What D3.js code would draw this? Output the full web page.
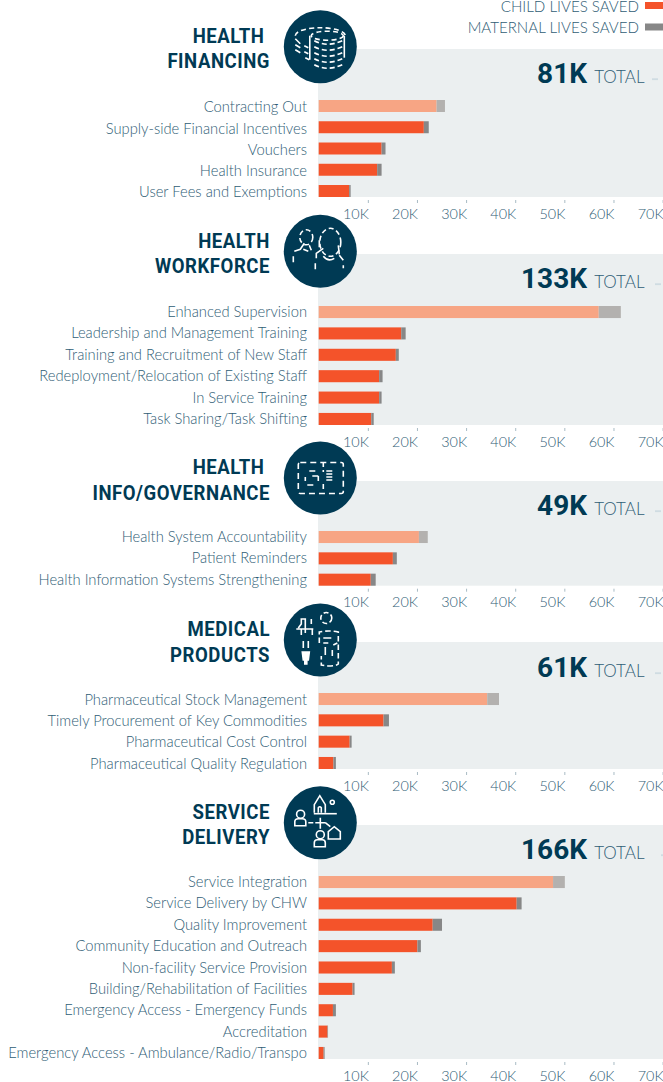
<!DOCTYPE html>
<html><head><meta charset="utf-8">
<script src="https://cdn.jsdelivr.net/npm/d3@7"></script>
<style>
html,body{margin:0;padding:0;background:#fff}
svg{display:block}
text{font-family:Lato,sans-serif}
</style></head><body><svg id="c" width="663" height="1082"></svg>
<script>
const axisTicks=[10,20,30,40,50,60,70];
const groupTitles=[["HEALTH","FINANCING"],["HEALTH","WORKFORCE"],["HEALTH","INFO/GOVERNANCE"],["MEDICAL","PRODUCTS"],["SERVICE","DELIVERY"]];
const groupTotals=["81K","133K","49K","61K","166K"];
const financingCats=["Contracting Out","Supply-side Financial Incentives","Vouchers","Health Insurance","User Fees and Exemptions"];
const financingChild=[24.0,21.4,12.8,11.9,6.2];
const financingMaternal=[1.7,1.0,0.8,0.9,0.3];
const workforceCats=["Enhanced Supervision","Leadership and Management Training","Training and Recruitment of New Staff","Redeployment/Relocation of Existing Staff","In Service Training","Task Sharing/Task Shifting"];
const workforceChild=[57.0,16.8,15.7,12.3,12.3,10.7];
const workforceMaternal=[4.5,0.9,0.6,0.7,0.5,0.5];
const governanceCats=["Health System Accountability","Patient Reminders","Health Information Systems Strengthening"];
const governanceChild=[20.4,15.1,10.6];
const governanceMaternal=[1.8,0.8,1.0];
const productsCats=["Pharmaceutical Stock Management","Timely Procurement of Key Commodities","Pharmaceutical Cost Control","Pharmaceutical Quality Regulation"];
const productsChild=[34.3,13.2,6.3,3.0];
const productsMaternal=[2.4,1.1,0.4,0.5];
const deliveryCats=["Service Integration","Service Delivery by CHW","Quality Improvement","Community Education and Outreach","Non-facility Service Provision","Building/Rehabilitation of Facilities","Emergency Access - Emergency Funds","Accreditation","Emergency Access - Ambulance/Radio/Transpo"];
const deliveryChild=[47.7,40.3,23.2,20.1,14.9,6.9,2.9,1.8,1.0];
const deliveryMaternal=[2.4,1.0,1.9,0.7,0.6,0.4,0.6,0.1,0.2];

const catLists=[financingCats,workforceCats,governanceCats,productsCats,deliveryCats];
const childLists=[financingChild,workforceChild,governanceChild,productsChild,deliveryChild];
const maternalLists=[financingMaternal,workforceMaternal,governanceMaternal,productsMaternal,deliveryMaternal];

// layout
const panelTop=[49,254,481,642,825], barTop=[100,306,531,693,876], panelBottom=[197,425,585.7,769,1059];
const circleY=[46.7,251.3,478,640,822.7], dashX=[652,655,655,655,661];
const labelNudge=[0.8,-0.5,-0.5,0,-0.5], totalOffset=[34,34,34,35,34];
const colors={child:"#f4532a",maternal:"#878787",childHi:"#f7a584",maternalHi:"#b3b1af",dark:"#003a54",text:"#2f5d75",panel:"#ebeff0",dash:"#cfdce2"};
const x=d3.scaleLinear().domain([0,70]).range([318.7,662.6]);
const svg=d3.select("#c");

const icons=[
 g=>{ // coins
  const dash="5 3.2";
  g.append("path").attr("d","M-25,-11 A25,8 0 0 1 25,-11").attr("stroke-dasharray",dash);
  g.append("path").attr("d","M-25,-8 L-20,-3 M-25,-2 L-20,1 M-25,3 L-20,6").attr("stroke-dasharray","none");
  g.append("path").attr("d","M-16,-1 L-12,1 M-16,5 L-12,7 M-15,11 L-11,13").attr("stroke-dasharray","none");
  g.append("path").attr("d","M24,-11 L24,11").attr("stroke-dasharray","none");
  g.append("ellipse").attr("cx",7).attr("cy",-11).attr("rx",16).attr("ry",4.5).attr("stroke-dasharray",dash);
  g.append("path").attr("d","M-10.5,-11 L-10.5,13").attr("stroke-dasharray","none");
  [-3,3,9,15,21].forEach(y=>g.append("path").attr("d",`M-6,${y-3} Q7,${y+4} 22,${y-3}`).attr("stroke-dasharray","5 3"));
 },
 g=>{ // workforce
  const dash="5 3";
  g.append("ellipse").attr("cx",-14).attr("cy",-14).attr("rx",6.5).attr("ry",7.5).attr("stroke-dasharray",dash);
  g.append("ellipse").attr("cx",10).attr("cy",-9).attr("rx",10.5).attr("ry",14).attr("stroke-dasharray",dash);
  g.append("path").attr("d","M-27,11 L-27,5 M-26,0 L-20,-2 L-16,-8 M-17,-2 L-12,0 M-11,-6 L-9,-1").attr("stroke-dasharray","none");
  g.append("path").attr("d","M-5,18 L-5,12 M-4,7 L-4,2 L3,-3 M-1,-11 L-1,-4 M19,4 L23,9 M23,14 L23,17 M3,5 Q8,11 14,7 M18,-6 L19,3").attr("stroke-dasharray","none");
 },
 g=>{ // info
  g.append("rect").attr("x",-22).attr("y",-15.5).attr("width",45).attr("height",31).attr("rx",2).attr("stroke-dasharray","6 4");
  g.append("path").attr("d","M-11,-7 L-5,-7 M-15,-1 L-15,3 M-8,-2 L-2,-2 M-2,-2 L-2,3 M-13,7 L-7,7").attr("stroke-dasharray","none");
  g.append("path").attr("d","M6,-7 L12,-7 M6,-4 L12,-4 M6,-1 L12,-1 M6,2 L12,2").attr("stroke-dasharray","none");
  g.append("path").attr("d","M3,-16 L3,-6 M3,6 L3,14").attr("stroke-dasharray","5 3");
 },
 g=>{ // products
  g.append("path").attr("d","M-15,-7 L-15,-21 L-19,-21 L-19,-16 L-22,-12 M-9,-21 L-9,-16 M-24,-11 L-7,-11 M-8,-11 L-8,-5 M-19,-11 L-19,-5").attr("stroke-dasharray","none");
  g.append("path").attr("d","M-17,1 L-17,8 M-12,1 L-12,8").attr("stroke-dasharray","none");
  g.append("path").attr("d","M-18,12 L-11,12 L-12,20 L-13.5,20 L-13.5,24 L-15.5,24 L-15.5,20 L-17,20 Z").attr("fill","#fff");
  g.append("circle").attr("cx",6).attr("cy",-22).attr("r",5.5).attr("stroke-dasharray","5 2.5");
  g.append("path").attr("d","M-1,3 L-1,-8 Q8,-10 18,-8 L18,24 Q16,26 8,26 L1,25 L1,16").attr("stroke-dasharray","5.5 3");
  g.append("path").attr("d","M3,-2 L11,-2 M3,3 L8,3 M17,3 L13,5 M5,7 L5,15 M12,10 L12,16").attr("stroke-dasharray","none");
 },
 g=>{ // delivery
  g.append("path").attr("d","M-6,-10 L-6,-18 L-0.5,-27 L5,-18 L5,-10 M-2,-10 L-2,-15 Q-0.5,-17 1,-15 L1,-10");
  g.append("path").attr("d","M-6.5,-9 L16.5,-9");
  g.append("circle").attr("cx",12).attr("cy",-20.5).attr("r",2);
  g.append("circle").attr("cx",-19.7).attr("cy",-8.5).attr("r",4);
  g.append("path").attr("d","M-25.5,3 L-25.5,-1 Q-25.5,-4 -22,-4 L-18,-4 Q-14.5,-4 -14.5,-1 L-14.5,3 Z");
  g.append("path").attr("d","M-12,0 L-7,0 M-5,0 L5,0 M0,-5 L0,6 M5,0 L10,4");
  g.append("circle").attr("cx",0).attr("cy",12).attr("r",4);
  g.append("path").attr("d","M-6,24 L-6,20 Q-6,17 -3,17 L2,17 Q5,17 5,20 L5,24 Z");
  g.append("path").attr("d","M8,16.3 L20,16.3 L20,9 L14,4 L8,9 Z");
 }
];

const titleText=(g,tx,ty,s)=>g.append("text").attr("transform",`translate(${tx},${ty}) scale(0.885,1)`).attr("text-anchor","end").attr("font-size",21).attr("font-weight",700)
    .style("font-family","Roboto").style("letter-spacing","0.6px").attr("fill",colors.dark).text(s);

catLists.forEach((cats,i)=>{
  const g=svg.append("g");
  g.append("rect").attr("x",318).attr("y",panelTop[i]).attr("width",345).attr("height",panelBottom[i]-panelTop[i]).attr("fill",colors.panel);
  const y=d3.scaleBand().domain(cats).range([barTop[i],panelBottom[i]]).paddingInner(0.436).paddingOuter(0);
  const rows=cats.map((c,k)=>({c,k,child:childLists[i][k],maternal:maternalLists[i][k]}));
  g.selectAll(".child").data(rows).join("rect").attr("x",x(0)).attr("y",d=>y(d.c)).attr("height",y.bandwidth())
    .attr("width",d=>x(d.child)-x(0)).attr("fill",d=>d.k===0?colors.childHi:colors.child);
  g.selectAll(".mat").data(rows).join("rect").attr("x",d=>x(d.child)).attr("y",d=>y(d.c)).attr("height",y.bandwidth())
    .attr("width",d=>x(d.child+d.maternal)-x(d.child)).attr("fill",d=>d.k===0?colors.maternalHi:colors.maternal);
  g.selectAll(".lab").data(rows).join("text").attr("x",307).attr("y",d=>y(d.c)+y.bandwidth()-0.5+labelNudge[i]).attr("text-anchor","end")
    .attr("font-size",14.75).attr("font-weight",300).attr("fill",colors.text).text(d=>d.c);
  // axis
  const ax=g.append("g").attr("transform",`translate(0,${panelBottom[i]+3})`)
    .call(d3.axisBottom(x).tickValues(axisTicks).tickSize(3).tickPadding(5.5).tickFormat(d=>d+"K"));
  ax.select(".domain").remove();
  ax.selectAll("line").attr("stroke","#a9bbc4").attr("stroke-width",1);
  ax.selectAll("text").attr("text-anchor","end").attr("dx",0.5).attr("font-size",14.4).attr("font-weight",300).attr("font-family","Lato").attr("fill",colors.text);
  // total
  const ty=panelTop[i]+totalOffset[i];
  g.append("text").attr("x",587).attr("y",ty).attr("text-anchor","end").attr("font-size",28).attr("font-weight",700)
    .style("font-family","Roboto").attr("fill",colors.dark).text(groupTotals[i]);
  g.append("text").attr("x",644.5).attr("y",ty).attr("text-anchor","end").attr("font-size",17).attr("font-weight",300).attr("fill",colors.text).text("TOTAL");
  g.append("rect").attr("x",dashX[i]).attr("y",ty-4.7).attr("width",6).attr("height",1.8).attr("fill",colors.dash);
  // titles
  titleText(g,i===0||i===2?264.5:270,circleY[i]-3.6,groupTitles[i][0]);
  titleText(g,270,circleY[i]+21.6,groupTitles[i][1]);
  // icon
  g.append("circle").attr("cx",320.3).attr("cy",circleY[i]).attr("r",36.5).attr("fill",colors.dark);
  const ic=g.append("g").attr("transform",`translate(320.3,${circleY[i]})`).attr("fill","none").attr("stroke","#fff").attr("stroke-width",1.6);
  icons[i](ic);
});

// legend
const legendNames=["CHILD LIVES SAVED","MATERNAL LIVES SAVED"], legendColors=[colors.child,colors.maternal], legendY=[11.5,33];
legendNames.forEach((n,i)=>{
  svg.append("text").attr("x",639).attr("y",legendY[i]).attr("text-anchor","end").attr("font-size",15.1).attr("font-weight",300).attr("fill",colors.text).text(n);
  svg.append("rect").attr("x",645).attr("y",legendY[i]-9.5).attr("width",18).attr("height",7).attr("fill",legendColors[i]);
});
</script></body></html>
